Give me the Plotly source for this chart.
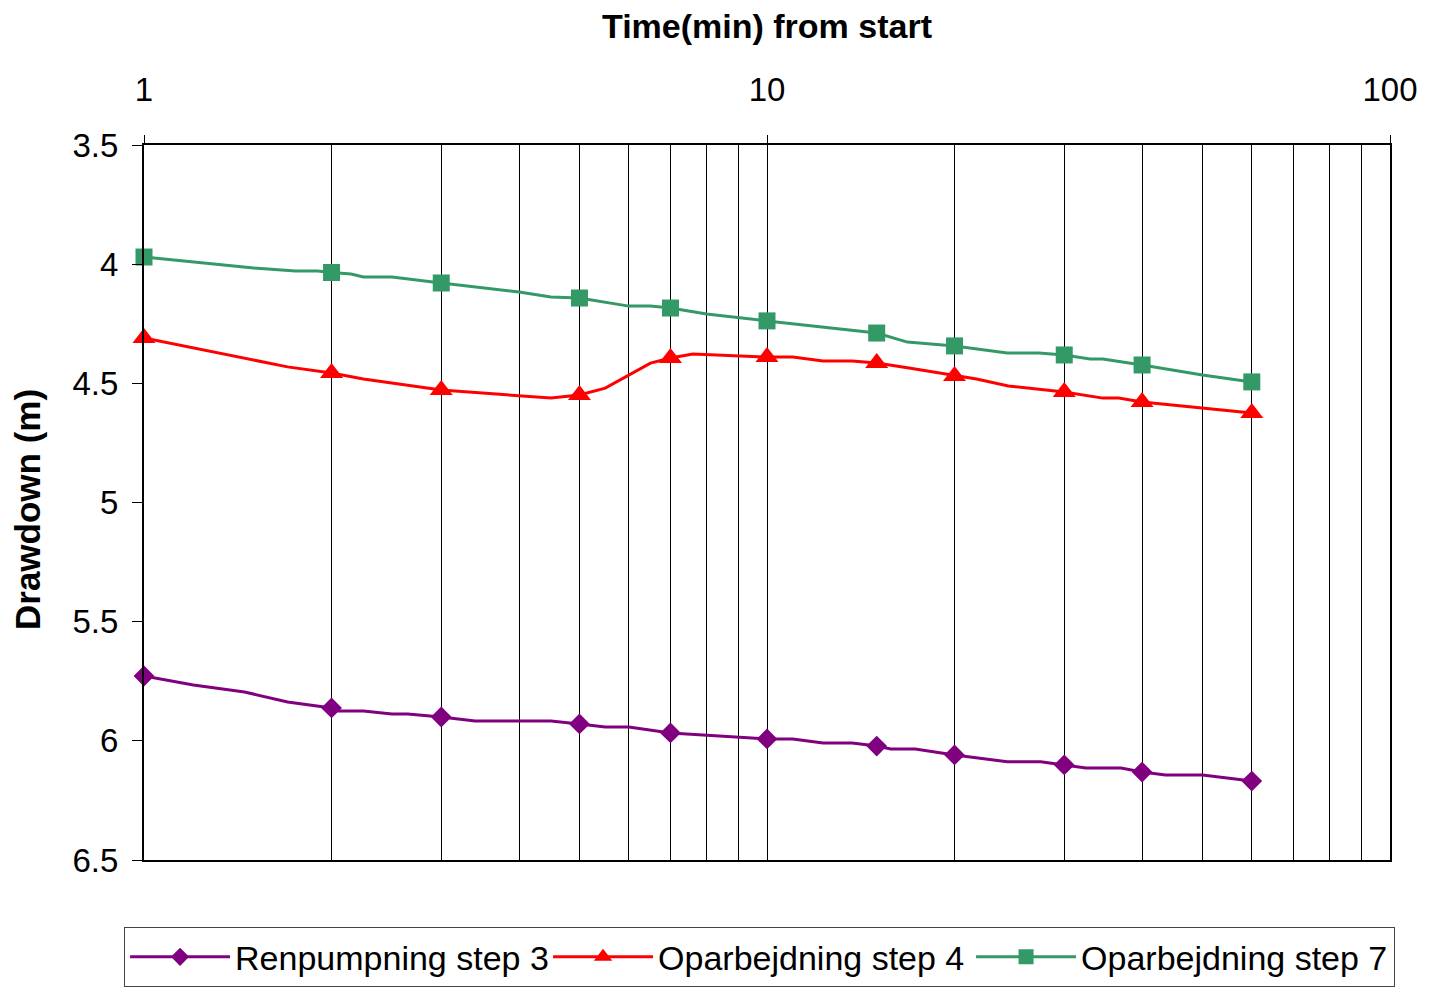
import plotly.graph_objects as go

# ---- data ----
MARKER_TIMES = [1, 2, 3, 5, 7, 10, 15, 20, 30, 40, 60]

renp3_t = [1, 1.2, 1.45, 1.7, 2, 2.05, 2.25, 2.5, 2.65, 3, 3.4, 4.5, 5, 5.5, 6, 7, 10,
           11, 12.3, 13.7, 15, 15.8, 17.3, 20, 24.3, 27.5, 30, 32.5, 37, 40, 43.6, 50, 60]
renp3_y = [5.728, 5.766, 5.795, 5.837, 5.862, 5.875, 5.875, 5.887, 5.887, 5.900, 5.917, 5.917,
           5.929, 5.942, 5.942, 5.967, 5.992, 5.992, 6.009, 6.009, 6.022, 6.034, 6.034, 6.059,
           6.088, 6.088, 6.101, 6.114, 6.114, 6.131, 6.143, 6.143, 6.169]

opar4_t = [1, 1.7, 2, 2.25, 3, 4.5, 5, 5.5, 6.5, 7, 7.6, 10, 11, 12.3, 13.7, 15, 16.9,
           20, 21.7, 24.4, 30, 34.6, 36.7, 40, 60]
opar4_y = [4.310, 4.431, 4.457, 4.482, 4.528, 4.562, 4.549, 4.520, 4.415, 4.394, 4.377,
           4.390, 4.390, 4.406, 4.406, 4.415, 4.436, 4.469, 4.482, 4.511, 4.536, 4.562,
           4.562, 4.578, 4.624]

opar7_t = [1, 1.2, 1.5, 1.75, 1.9, 2, 2.15, 2.25, 2.5, 3, 4, 4.5, 5, 6, 6.5, 7, 8, 10,
           15, 16.8, 20, 24.3, 27.3, 30, 33, 34.6, 40, 50, 60]
opar7_y = [3.970, 3.991, 4.016, 4.029, 4.029, 4.035, 4.041, 4.054, 4.054, 4.079, 4.117,
           4.138, 4.142, 4.176, 4.176, 4.184, 4.209, 4.238, 4.289, 4.327, 4.343, 4.373,
           4.373, 4.381, 4.398, 4.398, 4.423, 4.465, 4.494]

SERIES = [
    ("Renpumpning step 3", renp3_t, renp3_y, "#800080", "diamond", 16),
    ("Oparbejdning step 4", opar4_t, opar4_y, "#FF0000", "triangle-up", 20),
    ("Oparbejdning step 7", opar7_t, opar7_y, "#339966", "square", 17),
]

X_TICKS = [1, 10, 100]
X_MINOR = [2, 3, 4, 5, 6, 7, 8, 9, 20, 30, 40, 50, 60, 70, 80, 90]
Y_TICKS = [3.5, 4, 4.5, 5, 5.5, 6, 6.5]

FONT = "Arial, 'Liberation Sans', sans-serif"

fig = go.Figure()
for name, t, y, col, sym, ms in SERIES:
    is_m = [any(abs(v - m) < 1e-9 for m in MARKER_TIMES) for v in t]
    fig.add_trace(go.Scatter(
        x=t, y=y, mode="lines", line=dict(color=col, width=3),
        showlegend=False, hoverinfo="x+y", cliponaxis=False))
    fig.add_trace(go.Scatter(
        x=[v for v, k in zip(t, is_m) if k], y=[v for v, k in zip(y, is_m) if k],
        mode="markers", marker=dict(color=col, symbol=sym, size=ms),
        showlegend=False, cliponaxis=False))
    fig.add_trace(go.Scatter(
        x=[None], y=[None], mode="lines+markers", name=name,
        line=dict(color=col, width=3), marker=dict(color=col, symbol=sym, size=ms - 2)))

fig.update_layout(
    width=1431, height=991,
    margin=dict(l=136, r=49, t=137, b=139, autoexpand=False),
    paper_bgcolor="white", plot_bgcolor="white",
    font=dict(family=FONT, size=33, color="black"),
    showlegend=True,
    legend=dict(orientation="h", x=-0.016, xanchor="left", y=-0.094, yanchor="top",
                bordercolor="#444", borderwidth=1, font=dict(size=34),
                itemwidth=100, entrywidth=308, entrywidthmode="pixels",
                traceorder="normal"),
    xaxis=dict(type="log", range=[0, 2], side="top",
               tickvals=X_TICKS, ticktext=[str(v) for v in X_TICKS],
               ticks="outside", ticklen=8, tickcolor="black",
               showgrid=True, gridcolor="black", gridwidth=1,
               minor=dict(tickvals=X_MINOR, showgrid=True, gridcolor="black",
                          gridwidth=1, ticks=""),
               showline=True, linecolor="black", linewidth=2, mirror=True,
               ticklabelstandoff=21, zeroline=False),
    yaxis=dict(range=[6.5, 3.5], tickvals=Y_TICKS,
               ticktext=[f"{v:g}" for v in Y_TICKS],
               ticks="outside", ticklen=10, tickcolor="black",
               showgrid=False, zeroline=False,
               showline=True, linecolor="black", linewidth=2, mirror=True,
               ticklabelstandoff=7),
    annotations=[
        dict(text="<b>Time(min) from start</b>", xref="paper", yref="paper",
             x=0.5, y=(860 - 26) / 715, xanchor="center", yanchor="middle",
             showarrow=False, font=dict(size=34)),
        dict(text="<b>Drawdown (m)</b>", xref="paper", yref="paper",
             x=(28 - 144) / 1246, y=(860 - 510) / 715, xanchor="center", yanchor="middle",
             textangle=-90, showarrow=False, font=dict(size=35)),
    ],
)

fig.write_html("out.html")
